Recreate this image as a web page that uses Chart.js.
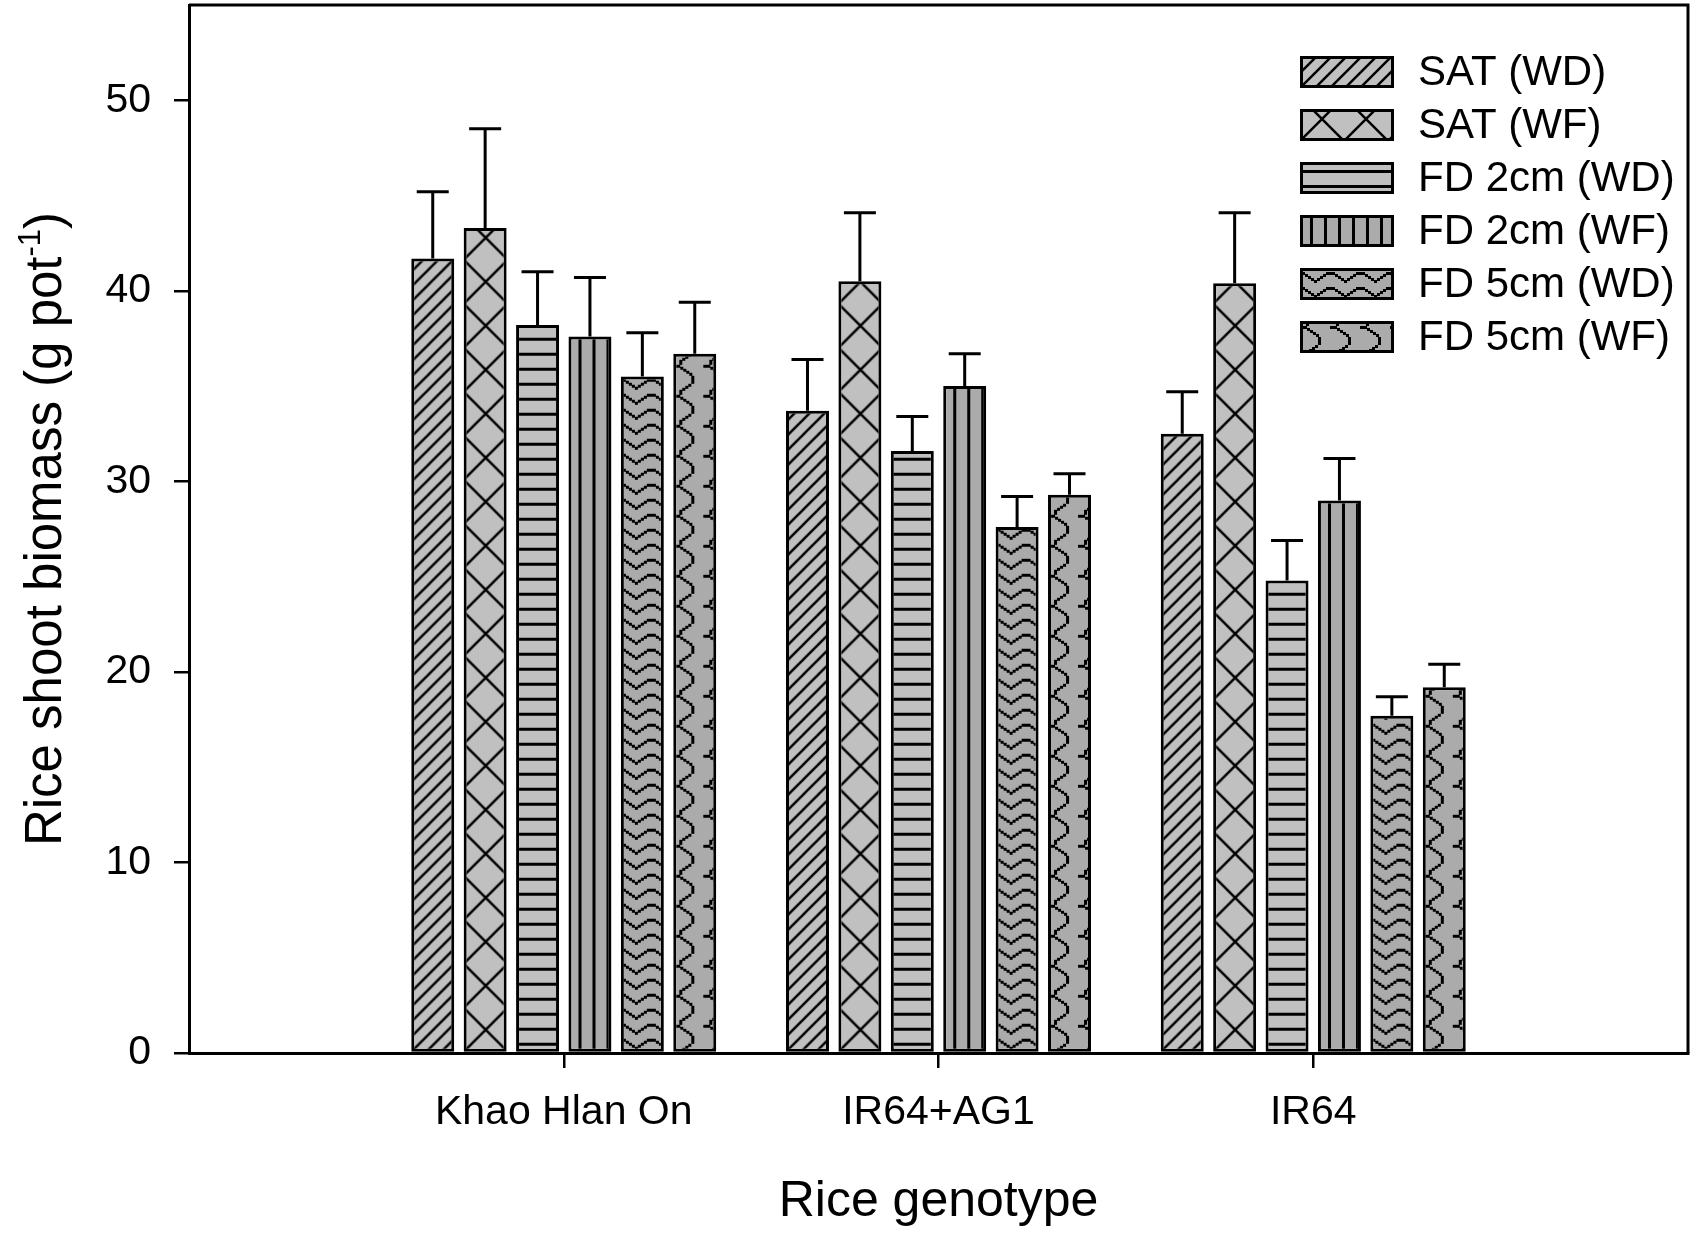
<!DOCTYPE html>
<html>
<head>
<meta charset="utf-8">
<title>Rice shoot biomass</title>
<script src="https://cdn.jsdelivr.net/npm/chart.js@4.4.1/dist/chart.umd.min.js"></script>
<style>
  html, body { margin: 0; padding: 0; background: #fff; }
  canvas { display: block; }
</style>
</head>
<body>
<canvas id="chart" width="1693" height="1237"></canvas>
<script>
// genotypes (empty slots at both ends so the three groups sit at 1/4, 2/4, 3/4)
const genotypes = ['', 'Khao Hlan On', 'IR64+AG1', 'IR64', ''];
const treatments = ['SAT (WD)', 'SAT (WF)', 'FD 2cm (WD)', 'FD 2cm (WF)', 'FD 5cm (WD)', 'FD 5cm (WF)'];

// mean shoot biomass, g pot-1
const satWD = [null, 41.7, 33.7, 32.5, null];
const satWF = [null, 43.3, 40.5, 40.4, null];
const fd2WD = [null, 38.2, 31.6, 24.8, null];
const fd2WF = [null, 37.6, 35.0, 29.0, null];
const fd5WD = [null, 35.5, 27.6, 17.7, null];
const fd5WF = [null, 36.7, 29.3, 19.2, null];

// upper error bars (SE)
const satWDErr = [null, 3.5, 2.7, 2.2, null];
const satWFErr = [null, 5.2, 3.6, 3.7, null];
const fd2WDErr = [null, 2.8, 1.8, 2.1, null];
const fd2WFErr = [null, 3.1, 1.7, 2.2, null];
const fd5WDErr = [null, 2.3, 1.6, 1.0, null];
const fd5WFErr = [null, 2.7, 1.1, 1.2, null];

const yTicks = [0, 10, 20, 30, 40, 50];

const FONT = '"Liberation Sans", Arial, sans-serif';
const LIGHT = '#c0c0c0';
const DARK = '#ababab';

// pattern tiles
function tile(w, h, bg, draw) {
  const c = document.createElement('canvas');
  c.width = w; c.height = h;
  const g = c.getContext('2d');
  g.fillStyle = bg;
  g.fillRect(0, 0, w, h);
  g.strokeStyle = '#000';
  g.fillStyle = '#000';
  draw(g, w, h);
  return c;
}

// pixel staircase blocks, 3px squares
function blocks(g, list) {
  list.forEach(([x, y, w, h]) => g.fillRect(x, y, w || 3, h || 3));
}

const tiles = [
  // diagonal
  tile(15, 15, LIGHT, (g, w, h) => {
    g.lineWidth = 2.5;
    for (let k = -1; k <= 1; k++) {
      g.beginPath();
      g.moveTo(k * w - 2, h + 2);
      g.lineTo(k * w + w + 2, -2);
      g.stroke();
    }
  }),
  // big crosshatch
  tile(44, 44, LIGHT, (g, w, h) => {
    g.lineWidth = 2.5;
    g.beginPath();
    g.moveTo(0, 0); g.lineTo(w, h);
    g.moveTo(w, 0); g.lineTo(0, h);
    g.stroke();
  }),
  // horizontal lines
  tile(4, 15, LIGHT, (g, w, h) => {
    g.fillRect(0, 6, w, 3);
  }),
  // vertical lines
  tile(14, 4, DARK, (g, w, h) => {
    g.fillRect(10, 0, 3, h);
  }),
  // V-shaped zigzag rows
  tile(30, 15, DARK, (g, w, h) => {
    blocks(g, [
      [0, 2, 5], [5, 4], [8, 6], [11, 8], [14, 10, 3],
      [17, 8], [20, 6], [23, 4], [26, 2, 4]
    ]);
  }),
  // scale-like shapes
  tile(30, 30, DARK, (g, w, h) => {
    blocks(g, [
      [0, 3, 7], [7, 5], [10, 7], [13, 9], [16, 11],
      [18, 14, 3, 8],
      [15, 22], [12, 24], [9, 26], [6, 28, 3, 2], [6, 0, 3, 3]
    ]);
  })
];

const values = [satWD, satWF, fd2WD, fd2WF, fd5WD, fd5WF];
const errors = [satWDErr, satWFErr, fd2WDErr, fd2WFErr, fd5WDErr, fd5WFErr];

const ctx = document.getElementById('chart').getContext('2d');

const datasets = treatments.map((label, i) => ({
  label: label,
  data: values[i],
  backgroundColor: ctx.createPattern(tiles[i], 'repeat'),
  borderColor: '#000',
  borderWidth: 3,
  borderSkipped: false,
  categoryPercentage: 0.839,
  barPercentage: 0.82
}));

const hideEdge = c => (c.index === 0 || c.index === genotypes.length - 1) ? 'rgba(0,0,0,0)' : '#000';

function noPadding(s) {
  s.paddingTop = 0;
  s.paddingBottom = 0;
  s.paddingLeft = 0;
  s.paddingRight = 0;
}

// anchor each bar's pattern to the bar itself
const anchorPatterns = {
  id: 'anchorPatterns',
  beforeDatasetsDraw(chart) {
    chart.data.datasets.forEach((ds, i) => {
      chart.getDatasetMeta(i).data.forEach(bar => {
        const p = bar.getProps(['x', 'width', 'base'], true);
        const pat = chart.ctx.createPattern(tiles[i], 'repeat');
        pat.setTransform(new DOMMatrix().translate(p.x - p.width / 2, p.base));
        bar.options = Object.assign({}, bar.options, { backgroundColor: pat });
      });
    });
  }
};

const errorBars = {
  id: 'errorBars',
  afterDatasetsDraw(chart) {
    const g = chart.ctx;
    const y = chart.scales.y;
    g.save();
    g.strokeStyle = '#000';
    g.lineWidth = 3;
    chart.data.datasets.forEach((ds, i) => {
      chart.getDatasetMeta(i).data.forEach((bar, j) => {
        const v = ds.data[j];
        if (v == null) return;
        const top = y.getPixelForValue(v + errors[i][j]);
        g.beginPath();
        g.moveTo(bar.x, bar.y);
        g.lineTo(bar.x, top);
        g.moveTo(bar.x - 16, top);
        g.lineTo(bar.x + 16, top);
        g.stroke();
      });
    });
    g.restore();
  }
};

const frameAndText = {
  id: 'frameAndText',
  afterDraw(chart) {
    const g = chart.ctx;
    const a = chart.chartArea;
    g.save();
    // frame top and right
    g.strokeStyle = '#000';
    g.lineWidth = 3;
    g.beginPath();
    g.moveTo(a.left, a.top);
    g.lineTo(a.right, a.top);
    g.lineTo(a.right, a.bottom);
    g.stroke();

    // legend
    const lx = 1300, ly = 56, bw = 94, bh = 32, step = 53;
    g.font = '42px ' + FONT;
    g.textBaseline = 'middle';
    g.textAlign = 'left';
    treatments.forEach((t, i) => {
      const top = ly + i * step;
      const pat = g.createPattern(tiles[i], 'repeat');
      pat.setTransform(new DOMMatrix().translate(lx, top + bh));
      g.fillStyle = pat;
      g.fillRect(lx, top, bw, bh);
      g.lineWidth = 3;
      g.strokeRect(lx + 1.5, top + 1.5, bw - 3, bh - 3);
      g.fillStyle = '#000';
      g.fillText(t, 1418, top + bh / 2 + 1);
    });

    // x title
    g.font = '50px ' + FONT;
    g.textAlign = 'center';
    g.textBaseline = 'alphabetic';
    g.fillText('Rice genotype', (a.left + a.right) / 2, 1216);

    // y title with superscript
    const main = 'Rice shoot biomass (g pot';
    const sup = '-1';
    const tail = ')';
    g.font = '51px ' + FONT;
    const wMain = g.measureText(main).width;
    const wTail = g.measureText(tail).width;
    g.font = '31px ' + FONT;
    const wSup = g.measureText(sup).width;
    const total = wMain + wSup + wTail;
    g.translate(61, (a.top + a.bottom) / 2);
    g.rotate(-Math.PI / 2);
    g.textAlign = 'left';
    const x0 = -total / 2;
    g.font = '51px ' + FONT;
    g.fillText(main, x0, 0);
    g.font = '31px ' + FONT;
    g.fillText(sup, x0 + wMain, -21);
    g.font = '51px ' + FONT;
    g.fillText(tail, x0 + wMain + wSup, 0);
    g.restore();
  }
};

new Chart(ctx, {
  type: 'bar',
  data: { labels: genotypes, datasets: datasets },
  plugins: [anchorPatterns, errorBars, frameAndText],
  options: {
    responsive: false,
    animation: false,
    devicePixelRatio: 1,
    layout: { padding: { top: 5, right: 5, left: 0, bottom: 0 } },
    plugins: {
      legend: { display: false },
      tooltip: { enabled: false }
    },
    scales: {
      x: {
        type: 'category',
        offset: false,
        grid: { offset: false, drawOnChartArea: false, tickLength: 15, lineWidth: 2.5, color: hideEdge, tickColor: hideEdge },
        border: { display: true, color: '#000', width: 3 },
        ticks: { color: '#000', font: { family: FONT, size: 41 }, padding: 20, maxRotation: 0, autoSkip: false },
        afterFit: s => { s.height = 184; noPadding(s); }
      },
      y: {
        min: 0,
        max: 55,
        grid: { drawOnChartArea: false, tickLength: 15, lineWidth: 2.5, color: '#000' },
        border: { display: true, color: '#000', width: 3 },
        ticks: { color: '#000', font: { family: FONT, size: 41 }, padding: 23, stepSize: 10 },
        afterBuildTicks: s => { s.ticks = yTicks.map(v => ({ value: v })); },
        afterFit: s => { s.width = 189; noPadding(s); }
      }
    }
  }
});
</script>
</body>
</html>
